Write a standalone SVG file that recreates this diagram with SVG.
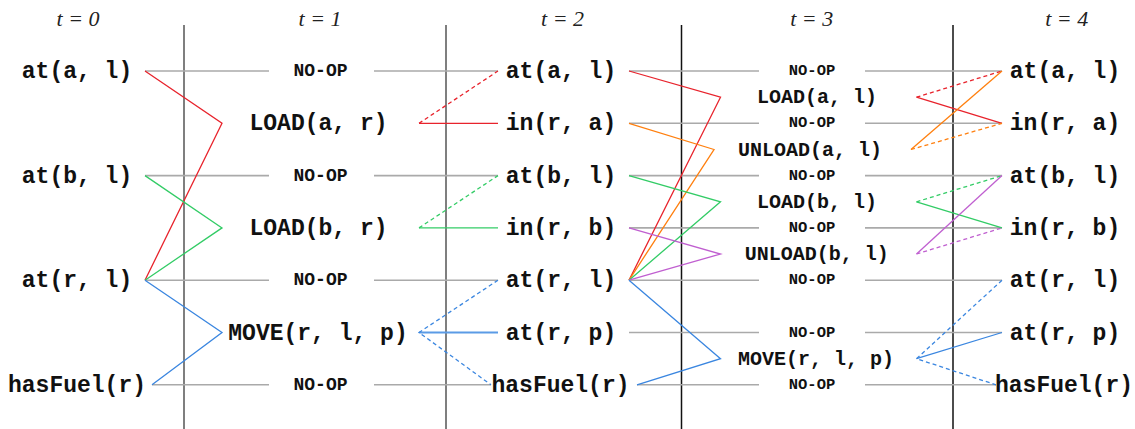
<svg xmlns="http://www.w3.org/2000/svg" width="1135" height="429" viewBox="0 0 1135 429">
<style>
.t{font-family:"Liberation Serif","Times New Roman",serif;font-style:italic;font-size:22px;text-anchor:middle;fill:#222}
.m{font-family:"Liberation Mono","Courier New",monospace;font-weight:bold;text-anchor:middle;fill:#111}
.s{font-size:23px}
.n1{font-size:18px}
.n3{font-size:15.5px}
.a3{font-size:20px}
.v{stroke-width:1.5;fill:none}
.g{stroke:#aaa;stroke-width:1.6;fill:none}
.c{stroke-width:1.3;fill:none}
.d{stroke-dasharray:4 3}
.red{stroke:#e8232c}
.grn{stroke:#33cc66}
.blu{stroke:#3a86e0}
.org{stroke:#ff7f0e}
.pur{stroke:#c05fd0}
</style>
<rect width="1135" height="429" fill="#fff"/>
<g id="titles">
<text class="t" x="78" y="26">t = 0</text>
<text class="t" x="320" y="26">t = 1</text>
<text class="t" x="562.5" y="26">t = 2</text>
<text class="t" x="811.7" y="26">t = 3</text>
<text class="t" x="1066.7" y="26">t = 4</text>
</g>
<g id="layers">
<line class="v" x1="184" y1="25" x2="184" y2="429" stroke="#555"/>
<line class="v" x1="446" y1="25" x2="446" y2="429" stroke="#555"/>
<line class="v" x1="681.5" y1="25" x2="681.5" y2="429" stroke="#111"/>
<line class="v" x1="953" y1="25" x2="953" y2="429" stroke="#111"/>
</g>
<g id="connectors">
<!-- t0 -> t1 no-op lines -->
<path class="g" d="M145 71H269M374 71H498M145 175.6H269M374 175.6H498M145 280.2H269M374 280.2H498M152 384.8H269M374 384.8H491"/>
<!-- t2 -> t3 no-op lines -->
<path class="g" d="M629 71H759M865 71H1002M629 123.3H759M865 123.3H1002M629 175.6H759M865 175.6H1002M629 227.9H759M865 227.9H1002M629 280.2H759M865 280.2H1002M629 332.5H759M865 332.5H1002M637 384.8H759M865 384.8H996"/>
<!-- t0 -> t1 preconditions -->
<path class="c red" d="M145 71L222 123.3L145 280.2"/>
<path class="c grn" d="M145 175.6L222 227.9L145 280.2"/>
<path class="c blu" d="M145 280.2L222 332.5L152 384.8"/>
<!-- t1 -> t2 effects -->
<path class="c red" d="M419 123.3H498"/>
<path class="c red d" d="M419 123.3L498 71"/>
<path class="c grn" d="M419 227.9H498"/>
<path class="c grn d" d="M419 227.9L498 175.6"/>
<path class="c blu" style="stroke:#5b9be6;stroke-width:1.8" d="M419 332.5H498"/>
<path class="c blu d" d="M498 280.2L419 332.5L491 384.8"/>
<!-- t2 -> t3 preconditions -->
<path class="c red" d="M629 71L720.5 97.2L629 280.2"/>
<path class="c org" d="M629 123.3L714 149.5L629 280.2"/>
<path class="c grn" d="M629 175.6L720.5 201.8L629 280.2"/>
<path class="c pur" d="M629 227.9L720.5 254L629 280.2"/>
<path class="c blu" d="M629 280.2L720.5 358.7L637 384.8"/>
<!-- t3 -> t4 effects -->
<path class="c red d" d="M916.5 97.2L1002 71"/>
<path class="c red" d="M916.5 97.2L1002 123.3"/>
<path class="c org" d="M911 149.5L1002 71"/>
<path class="c org d" d="M911 149.5L1002 123.3"/>
<path class="c grn d" d="M916.5 201.8L1002 175.6"/>
<path class="c grn" d="M916.5 201.8L1002 227.9"/>
<path class="c pur" d="M916.5 254L1002 175.6"/>
<path class="c pur d" d="M916.5 254L1002 227.9"/>
<path class="c blu d" d="M1002 280.2L916.5 358.7L996 384.8"/>
<path class="c blu" d="M916.5 358.7L1002 332.5"/>
</g>
<!-- t = 0 states -->
<g id="s0-at-a-l"><text class="m s" x="77" y="78">at(a, l)</text></g>
<g id="s0-at-b-l"><text class="m s" x="77" y="182.6">at(b, l)</text></g>
<g id="s0-at-r-l"><text class="m s" x="77" y="287.2">at(r, l)</text></g>
<g id="s0-hasFuel"><text class="m s" x="77" y="391.8">hasFuel(r)</text></g>
<!-- t = 1 actions -->
<g id="a1-noop1"><text class="m n1" x="320.5" y="76">NO-OP</text></g>
<g id="a1-load-a-r"><text class="m s" x="318.5" y="130.3">LOAD(a, r)</text></g>
<g id="a1-noop2"><text class="m n1" x="320.5" y="180.6">NO-OP</text></g>
<g id="a1-load-b-r"><text class="m s" x="318.5" y="234.9">LOAD(b, r)</text></g>
<g id="a1-noop3"><text class="m n1" x="320.5" y="285.2">NO-OP</text></g>
<g id="a1-move"><text class="m s" x="318" y="339.5">MOVE(r, l, p)</text></g>
<g id="a1-noop4"><text class="m n1" x="320.5" y="389.8">NO-OP</text></g>
<!-- t = 2 states -->
<g id="s2-at-a-l"><text class="m s" x="561" y="78">at(a, l)</text></g>
<g id="s2-in-r-a"><text class="m s" x="561" y="130.3">in(r, a)</text></g>
<g id="s2-at-b-l"><text class="m s" x="561" y="182.6">at(b, l)</text></g>
<g id="s2-in-r-b"><text class="m s" x="561" y="234.9">in(r, b)</text></g>
<g id="s2-at-r-l"><text class="m s" x="561" y="287.2">at(r, l)</text></g>
<g id="s2-at-r-p"><text class="m s" x="561" y="339.5">at(r, p)</text></g>
<g id="s2-hasFuel"><text class="m s" x="560.5" y="391.8">hasFuel(r)</text></g>
<!-- t = 3 actions -->
<g id="a3-noop1"><text class="m n3" x="812" y="75">NO-OP</text></g>
<g id="a3-load-a-l"><text class="m a3" x="817" y="103.2">LOAD(a, l)</text></g>
<g id="a3-noop2"><text class="m n3" x="812" y="127.3">NO-OP</text></g>
<g id="a3-unload-a-l"><text class="m a3" x="810" y="155.5">UNLOAD(a, l)</text></g>
<g id="a3-noop3"><text class="m n3" x="812" y="179.6">NO-OP</text></g>
<g id="a3-load-b-l"><text class="m a3" x="817" y="207.8">LOAD(b, l)</text></g>
<g id="a3-noop4"><text class="m n3" x="812" y="231.9">NO-OP</text></g>
<g id="a3-unload-b-l"><text class="m a3" x="816.7" y="260">UNLOAD(b, l)</text></g>
<g id="a3-noop5"><text class="m n3" x="812" y="284.2">NO-OP</text></g>
<g id="a3-noop6"><text class="m n3" x="812" y="336.5">NO-OP</text></g>
<g id="a3-move"><text class="m a3" x="816" y="364.7">MOVE(r, l, p)</text></g>
<g id="a3-noop7"><text class="m n3" x="812" y="388.8">NO-OP</text></g>
<!-- t = 4 states -->
<g id="s4-at-a-l"><text class="m s" x="1065" y="78">at(a, l)</text></g>
<g id="s4-in-r-a"><text class="m s" x="1065" y="130.3">in(r, a)</text></g>
<g id="s4-at-b-l"><text class="m s" x="1065" y="182.6">at(b, l)</text></g>
<g id="s4-in-r-b"><text class="m s" x="1065" y="234.9">in(r, b)</text></g>
<g id="s4-at-r-l"><text class="m s" x="1065" y="287.2">at(r, l)</text></g>
<g id="s4-at-r-p"><text class="m s" x="1065" y="339.5">at(r, p)</text></g>
<g id="s4-hasFuel"><text class="m s" x="1064" y="391.8">hasFuel(r)</text></g>
</svg>
